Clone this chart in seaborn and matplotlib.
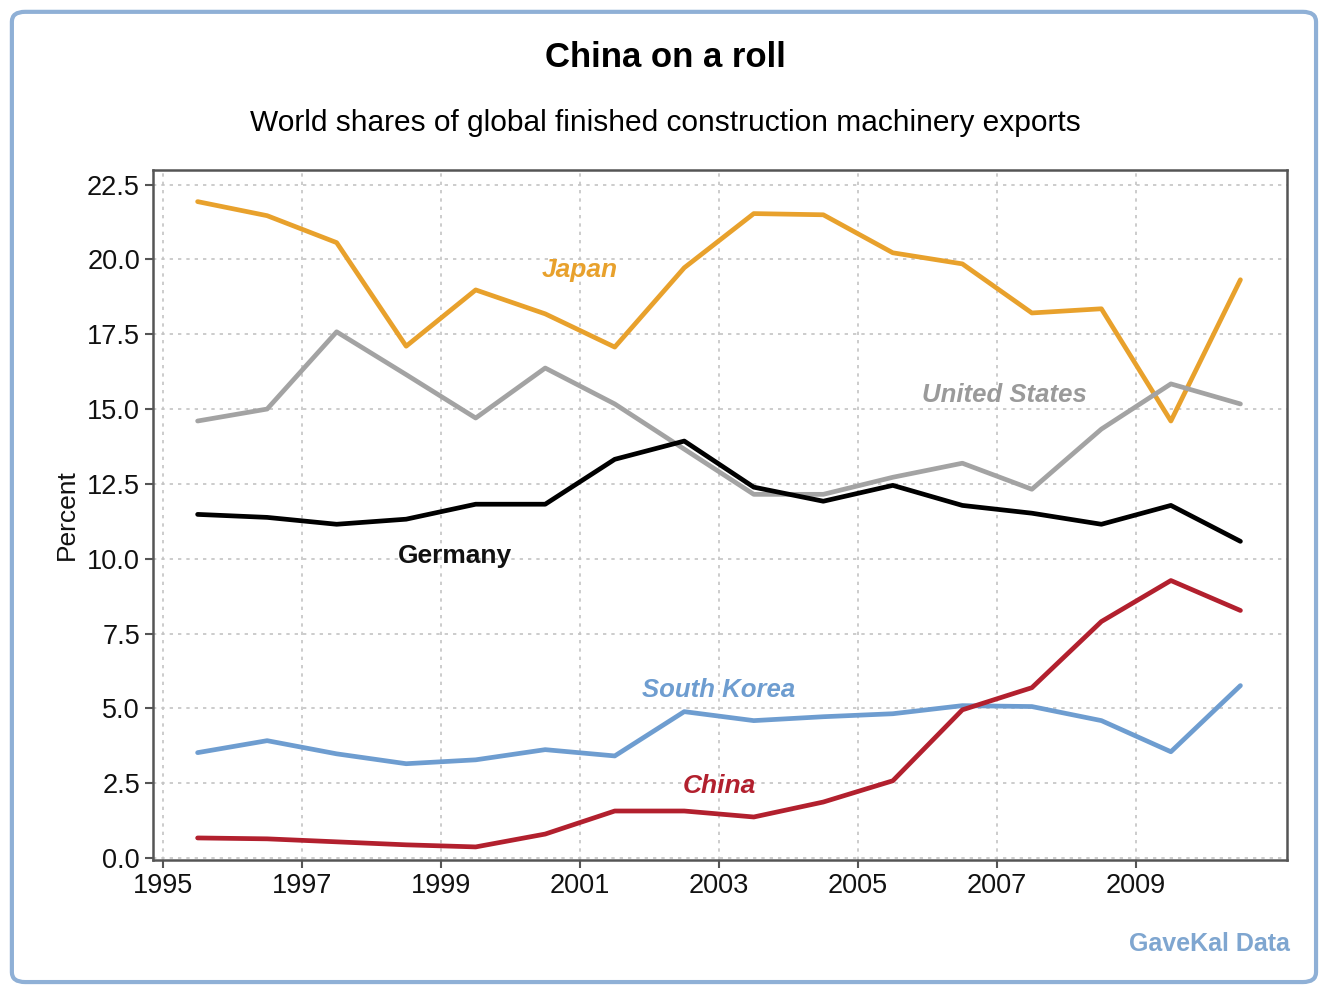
import pandas as pd
import matplotlib.pyplot as plt
import seaborn as sns
from matplotlib.patches import FancyBboxPatch

years = [1995.5, 1996.5, 1997.5, 1998.5, 1999.5, 2000.5, 2001.5, 2002.5,
         2003.5, 2004.5, 2005.5, 2006.5, 2007.5, 2008.5, 2009.5, 2010.5]
japan = [21.93, 21.46, 20.56, 17.1, 18.98, 18.18, 17.07, 19.72,
         21.53, 21.49, 20.22, 19.85, 18.21, 18.35, 14.6, 19.32]
united_states = [14.6, 15.0, 17.58, 16.15, 14.7, 16.37, 15.17, 13.66,
                 12.15, 12.15, 12.72, 13.19, 12.32, 14.33, 15.84, 15.17]
germany = [11.48, 11.38, 11.15, 11.32, 11.82, 11.82, 13.32, 13.93,
           12.39, 11.92, 12.45, 11.78, 11.52, 11.15, 11.78, 10.58]
south_korea = [3.52, 3.92, 3.48, 3.15, 3.28, 3.62, 3.41, 4.89,
               4.59, 4.72, 4.82, 5.09, 5.06, 4.59, 3.55, 5.76]
china = [0.67, 0.64, 0.54, 0.44, 0.37, 0.80, 1.57, 1.57,
         1.37, 1.87, 2.58, 4.95, 5.69, 7.9, 9.27, 8.27]

series = {'Japan': japan, 'United States': united_states, 'Germany': germany,
          'South Korea': south_korea, 'China': china}
colors = {'Japan': '#E8A12C', 'United States': '#A3A3A3', 'Germany': '#000000',
          'South Korea': '#6E9DD0', 'China': '#B2202E'}

df = pd.concat([pd.DataFrame({'year': years, 'share': v, 'country': k})
                for k, v in series.items()], ignore_index=True)

sns.set_style('white')
plt.rcParams['font.family'] = ['Liberation Sans', 'DejaVu Sans']
plt.rcParams['text.color'] = 'black'

fig = plt.figure(figsize=(13.2, 9.86), dpi=100)
ax = fig.add_axes([0.116, 0.128, 0.859, 0.700])

sns.lineplot(data=df, x='year', y='share', hue='country', palette=colors,
             linewidth=3.4, legend=False, ax=ax)

ax.set_xlim(1994.86, 2011.17)
ax.set_ylim(-0.06, 23.0)
ax.set_xticks(range(1995, 2011, 2))
ax.set_yticks([i * 2.5 for i in range(10)])
ax.set_yticklabels([f'{i * 2.5:.1f}' for i in range(10)])
ax.tick_params(axis='both', labelsize=19.5, direction='out', length=6, width=1.5,
               color='#555555', labelcolor='#111111', bottom=True, left=True)
ax.grid(True, linestyle=(0, (2, 3)), color='#c4c4c4', linewidth=1.2)
for s in ax.spines.values():
    s.set_color('#555555')
    s.set_linewidth(1.8)
ax.set_xlabel('')
ax.set_ylabel('Percent', fontsize=19, labelpad=6, color='#111111')

ax.text(2001.0, 19.65, 'Japan', color=colors['Japan'], fontsize=19,
        style='italic', fontweight='bold', ha='center', va='center')
ax.text(2007.1, 15.47, 'United States', color='#9a9a9a', fontsize=18.5,
        style='italic', fontweight='bold', ha='center', va='center')
ax.text(1999.2, 10.08, 'Germany', color='#111111', fontsize=19,
        fontweight='bold', ha='center', va='center')
ax.text(2003.0, 5.62, 'South Korea', color=colors['South Korea'], fontsize=18.5,
        style='italic', fontweight='bold', ha='center', va='center')
ax.text(2003.0, 2.41, 'China', color=colors['China'], fontsize=19,
        style='italic', fontweight='bold', ha='center', va='center')

fig.text(0.504, 0.942, 'China on a roll', fontsize=25, fontweight='bold',
         ha='center', va='center')
fig.text(0.504, 0.875, 'World shares of global finished construction machinery exports',
         fontsize=21.5, ha='center', va='center')
fig.text(0.977, 0.043, 'GaveKal Data', fontsize=18, fontweight='bold',
         color='#7FA6D0', ha='right', va='center')

border = FancyBboxPatch((0.009, 0.004), 0.988, 0.984, transform=fig.transFigure,
                        boxstyle='round,pad=0,rounding_size=0.01',
                        facecolor='none', edgecolor='#8FB0D6', linewidth=3)
fig.patches.append(border)

fig.savefig('out.png', dpi=100)
